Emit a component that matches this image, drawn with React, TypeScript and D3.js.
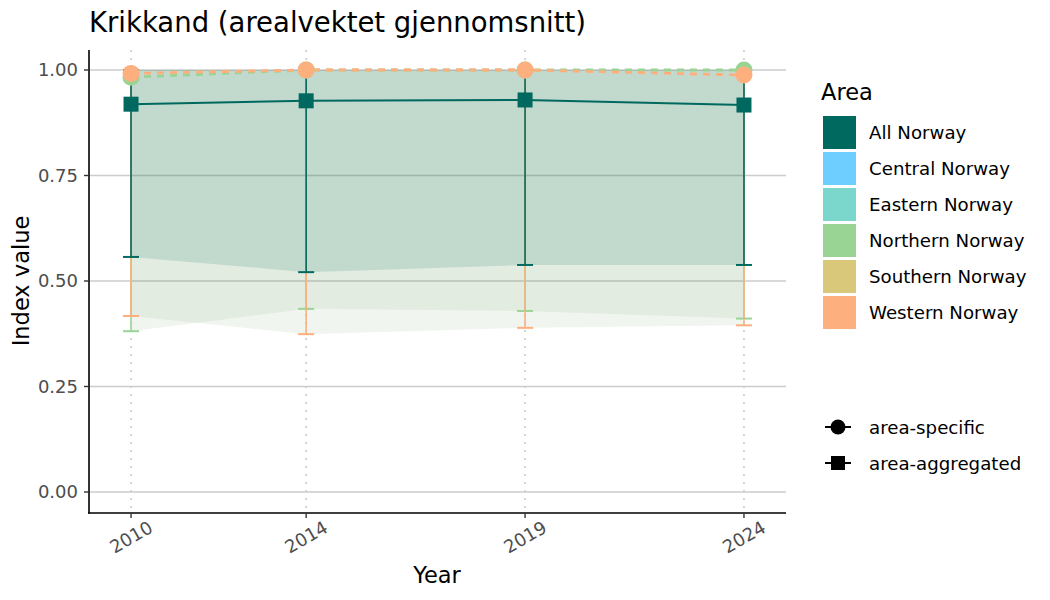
import React from "react";
import * as d3 from "d3";

const years = [2010, 2014, 2019, 2024];
const yTicks = [0, 0.25, 0.5, 0.75, 1.0];

const allNorwayValue = [0.919, 0.927, 0.929, 0.917];
const allNorwayLow = [0.557, 0.521, 0.538, 0.538];
const allNorwayHigh = [1.0, 1.0, 1.0, 1.0];

const northernValue = [0.983, 1.0, 1.0, 1.0];
const northernLow = [0.381, 0.434, 0.429, 0.411];
const northernHigh = [1.0, 1.0, 1.0, 1.0];

const westernValue = [0.992, 1.0, 1.0, 0.988];
const westernLow = [0.417, 0.374, 0.389, 0.395];
const westernHigh = [1.0, 1.0, 1.0, 1.0];

const areaNames = ["All Norway", "Central Norway", "Eastern Norway", "Northern Norway", "Southern Norway", "Western Norway"];
const areaColors = ["#00695F", "#6ECEFF", "#7BD6CC", "#99D494", "#D9C77A", "#FDB07E"];

const shapeLabels = ["area-specific", "area-aggregated"];

const W = 1050, H = 600;
const FONT = "DejaVu Sans, sans-serif";

export default function App() {
  const x = d3.scaleLinear().domain([2009.04, 2024.96]).range([89, 786]);
  const y = d3.scaleLinear().domain([0, 1]).range([492, 70]);
  const top = 50, bottom = 513;

  const idx = years.map((_, i) => i);
  const area = (lo: number[], hi: number[]) =>
    d3.area<number>().x((i) => x(years[i])).y0((i) => y(lo[i])).y1((i) => y(hi[i]))(idx) || "";
  const line = (v: number[]) => d3.line<number>().x((i) => x(years[i])).y((i) => y(v[i]))(idx) || "";

  const errBars = (lo: number[], hi: number[], color: string, key: string) =>
    idx.map((i) => (
      <g key={key + i} stroke={color} strokeWidth={1.6}>
        <line x1={x(years[i])} x2={x(years[i])} y1={y(lo[i])} y2={y(hi[i])} />
        <line x1={x(years[i]) - 8} x2={x(years[i]) + 8} y1={y(lo[i])} y2={y(lo[i])} strokeWidth={2} />
        <line x1={x(years[i]) - 8} x2={x(years[i]) + 8} y1={y(hi[i])} y2={y(hi[i])} strokeWidth={2} />
      </g>
    ));

  const green = areaColors[3];
  const orange = areaColors[5];
  const teal = areaColors[0];

  return (
    <svg width={W} height={H} style={{ position: "absolute", left: 0, top: 0, background: "#fff" }} fontFamily={FONT}>
      <rect x={0} y={0} width={W} height={H} fill="#fff" />
      {/* grid */}
      {yTicks.map((t) => (
        <line key={"gy" + t} x1={89} x2={786} y1={y(t)} y2={y(t)} stroke="#cccccc" strokeWidth={1.6} />
      ))}
      {years.map((yr) => (
        <line key={"gx" + yr} x1={x(yr)} x2={x(yr)} y1={top} y2={bottom} stroke="#cccccc" strokeWidth={1.6} strokeDasharray="2,6" />
      ))}
      {/* ribbons */}
      <path d={area(northernLow, northernHigh)} fill="#6f9a5e" fillOpacity={0.1} />
      <path d={area(westernLow, westernHigh)} fill="#6f9a5e" fillOpacity={0.1} />
      <path d={area(allNorwayLow, allNorwayHigh)} fill={teal} fillOpacity={0.14} />
      {/* error bars */}
      {errBars(northernLow, northernHigh, green, "n")}
      {errBars(westernLow, westernHigh, orange, "w")}
      {errBars(allNorwayLow, allNorwayHigh, teal, "a")}
      {/* lines */}
      <path d={line(northernValue)} fill="none" stroke={green} strokeWidth={2.8} strokeDasharray="7,6" />
      <path d={line(westernValue)} fill="none" stroke={orange} strokeWidth={2.8} strokeDasharray="7,6" />
      <path d={line(allNorwayValue)} fill="none" stroke={teal} strokeWidth={2} />
      {/* points */}
      {idx.map((i) => (
        <circle key={"pn" + i} cx={x(years[i])} cy={y(northernValue[i])} r={8.5} fill={green} />
      ))}
      {idx.map((i) => (
        <circle key={"pw" + i} cx={x(years[i])} cy={y(westernValue[i])} r={8.5} fill={orange} />
      ))}
      {idx.map((i) => (
        <rect key={"pa" + i} x={x(years[i]) - 7.5} y={y(allNorwayValue[i]) - 7.5} width={15} height={15} fill={teal} />
      ))}
      {/* axes */}
      <line x1={89} x2={89} y1={top} y2={bottom + 0.8} stroke="#000" strokeWidth={1.6} />
      <line x1={88.2} x2={786} y1={bottom} y2={bottom} stroke="#000" strokeWidth={1.6} />
      {yTicks.map((t) => (
        <g key={"ty" + t}>
          <line x1={84} x2={89} y1={y(t)} y2={y(t)} stroke="#333" strokeWidth={1.4} />
          <text x={78} y={y(t)} dy="0.36em" textAnchor="end" fontSize={18} fill="#4d4d4d">{t.toFixed(2)}</text>
        </g>
      ))}
      {years.map((yr) => (
        <g key={"tx" + yr}>
          <line x1={x(yr)} x2={x(yr)} y1={bottom} y2={bottom + 5} stroke="#333" strokeWidth={1.4} />
          <text transform={`translate(${x(yr)},${bottom + 24}) rotate(-30)`} textAnchor="middle" dy="0.36em" fontSize={18} fill="#4d4d4d">{yr}</text>
        </g>
      ))}
      {/* labels */}
      <text x={89} y={31.5} fontSize={27.5} fill="#000">Krikkand (arealvektet gjennomsnitt)</text>
      <text x={437} y={583} textAnchor="middle" fontSize={22.5} fill="#000">Year</text>
      <text transform={`translate(29,${281}) rotate(-90)`} textAnchor="middle" fontSize={22.5} fill="#000">Index value</text>
      {/* legend */}
      <text x={821} y={100} fontSize={22.5} fill="#000">Area</text>
      {areaNames.map((n, i) => (
        <g key={"lg" + n}>
          <rect x={823} y={116 + i * 36} width={33} height={33} fill={areaColors[i]} />
          <text x={869} y={116 + i * 36 + 16.5} dy="0.36em" fontSize={18.2} fill="#000">{n}</text>
        </g>
      ))}
      {shapeLabels.map((s, i) => {
        const cy = 427 + i * 36;
        return (
          <g key={"sh" + s}>
            <line x1={825} x2={851} y1={cy} y2={cy} stroke="#000" strokeWidth={2} />
            {i === 0 ? (
              <circle cx={838} cy={cy} r={7.5} fill="#000" />
            ) : (
              <rect x={831} y={cy - 7} width={14} height={14} fill="#000" />
            )}
            <text x={869} y={cy} dy="0.36em" fontSize={18.2} fill="#000">{s}</text>
          </g>
        );
      })}
    </svg>
  );
}
